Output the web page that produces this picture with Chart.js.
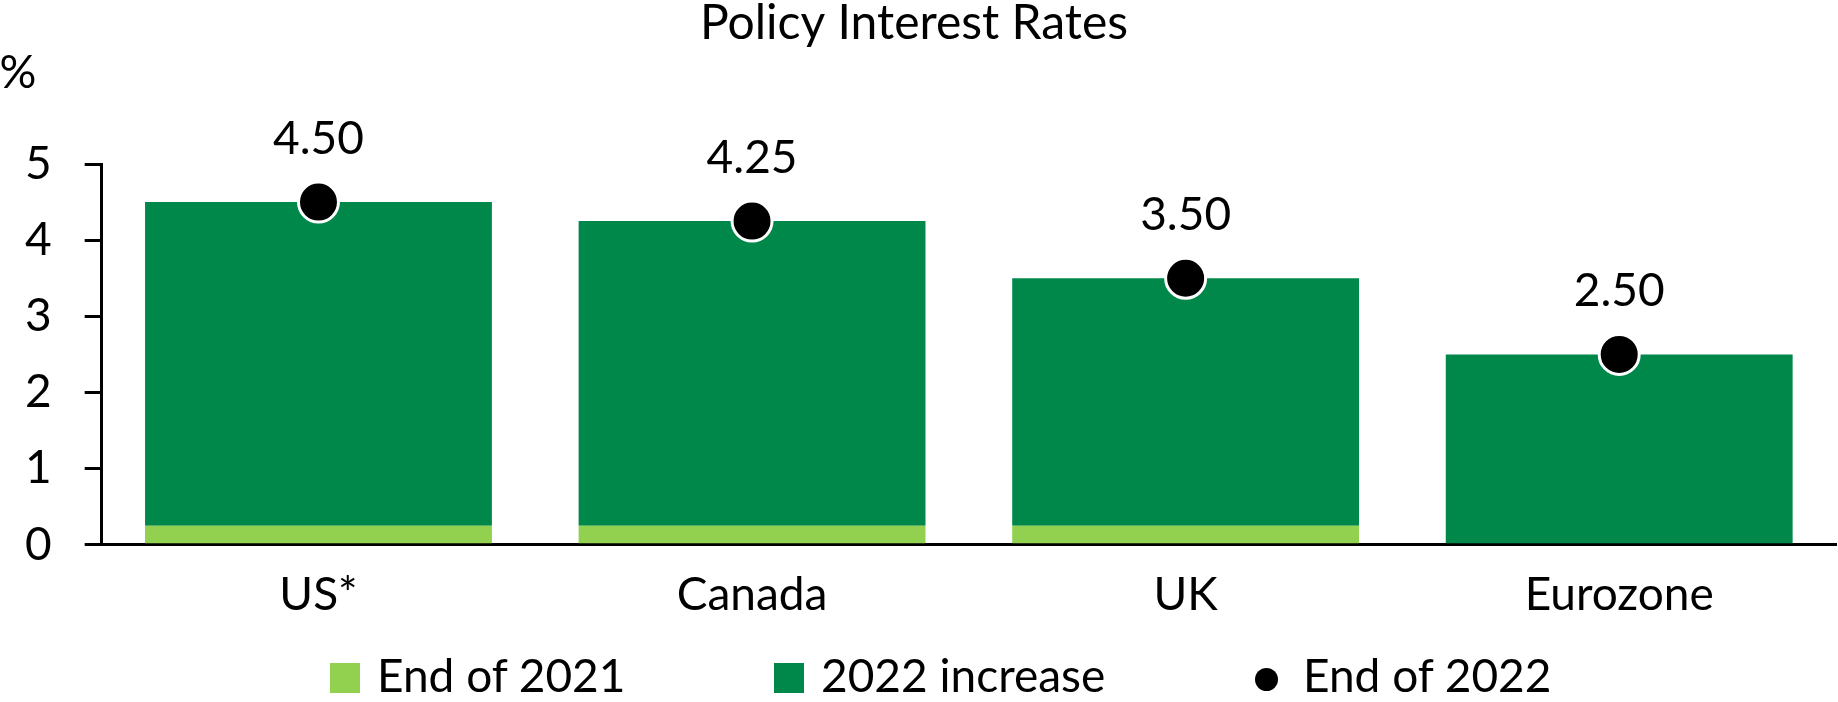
<!DOCTYPE html>
<html>
<head>
<meta charset="utf-8">
<title>Policy Interest Rates</title>
<script src="https://cdn.jsdelivr.net/npm/chart.js@4.4.0/dist/chart.umd.min.js"></script>
<style>
  body { margin: 0; background: #fff; }
  #wrap { position: relative; width: 1838px; height: 702px; overflow: hidden; }
  #rates { position: absolute; left: 0; top: 0; }
  #legend {
    position: absolute; left: 330px; top: 652px; height: 46px;
    display: flex; font: 46px Lato, sans-serif; line-height: 46px; color: #000;
  }
  .item { display: flex; align-items: center; white-space: nowrap; }
  .swatch { width: 30px; height: 30px; margin-right: 17px; margin-top: 6px; }
  .dot { width: 23px; height: 23px; border-radius: 50%; background: #000; margin-right: 25px; margin-top: 8px; }
</style>
</head>
<body>
<div id="wrap">
  <canvas id="rates" width="1838" height="702"></canvas>
  <div id="legend">
    <div class="item" style="width:444px"><span class="swatch" style="background:#92D050"></span>End of 2021</div>
    <div class="item" style="width:481px"><span class="swatch" style="background:#00884B"></span>2022 increase</div>
    <div class="item"><span class="dot"></span>End of 2022</div>
  </div>
</div>
<script>
var categories = ["US*", "Canada", "UK", "Eurozone"];
var end2021 = [0.25, 0.25, 0.25, 0];
var increase2022 = [4.25, 4.0, 3.25, 2.5];
var end2022 = [4.5, 4.25, 3.5, 2.5];
var yMin = 0, yMax = 5, yStep = 1;

Chart.defaults.font.family = "Lato";
Chart.defaults.font.size = 46;
Chart.defaults.color = "#000";

// value labels over the end-of-year dots, plus the "%" unit over the y axis
var valueLabels = {
    id: "valueLabels",
    afterDatasetsDraw: function(chart) {
        var ctx = chart.ctx;
        var meta = chart.getDatasetMeta(2);
        ctx.save();
        ctx.font = "46px Lato";
        ctx.fillStyle = "#000";
        ctx.textAlign = "center";
        ctx.textBaseline = "middle";
        meta.data.forEach(function(pt, i) {
            ctx.fillText(end2022[i].toFixed(2), pt.x, pt.y - 63);
        });
        ctx.fillText("%", 18, chart.scales.y.top - 91);
        ctx.restore();
    }
};

document.addEventListener("DOMContentLoaded", function() {
    var ctx = document.getElementById("rates").getContext("2d");
    new Chart(ctx, {
        type: "bar",
        data: {
            labels: categories,
            datasets: [{
                label: "End of 2021",
                data: end2021,
                backgroundColor: "#92D050",
                barPercentage: 0.8,
                categoryPercentage: 1.0
            }, {
                label: "2022 increase",
                data: increase2022,
                backgroundColor: "#00884B",
                barPercentage: 0.8,
                categoryPercentage: 1.0
            }, {
                type: "line",
                label: "End of 2022",
                data: end2022,
                stack: "total",
                order: -1,
                showLine: false,
                pointRadius: 20,
                pointHoverRadius: 20,
                pointBackgroundColor: "#000",
                pointBorderColor: "#fff",
                pointBorderWidth: 3
            }]
        },
        options: {
            responsive: false,
            animation: false,
            events: [],
            layout: { autoPadding: false, padding: { left: -8, right: 2, top: 0, bottom: 64 } },
            plugins: {
                legend: { display: false },
                tooltip: { enabled: false },
                title: {
                    display: true,
                    text: "Policy Interest Rates",
                    font: { size: 48, weight: "normal", lineHeight: 1 },
                    color: "#000",
                    padding: { top: 0, bottom: 116 }
                }
            },
            scales: {
                x: {
                    stacked: true,
                    grid: { display: false },
                    border: { display: true, color: "#000", width: 3 },
                    ticks: { padding: 15, color: "#000" }
                },
                y: {
                    stacked: true,
                    min: yMin,
                    max: yMax,
                    ticks: { stepSize: yStep, padding: 33, color: "#000" },
                    grid: { drawOnChartArea: false, tickLength: 17, color: "#000", lineWidth: 3 },
                    border: { display: true, color: "#000", width: 3 }
                }
            }
        },
        plugins: [valueLabels]
    });
});
</script>
</body>
</html>
